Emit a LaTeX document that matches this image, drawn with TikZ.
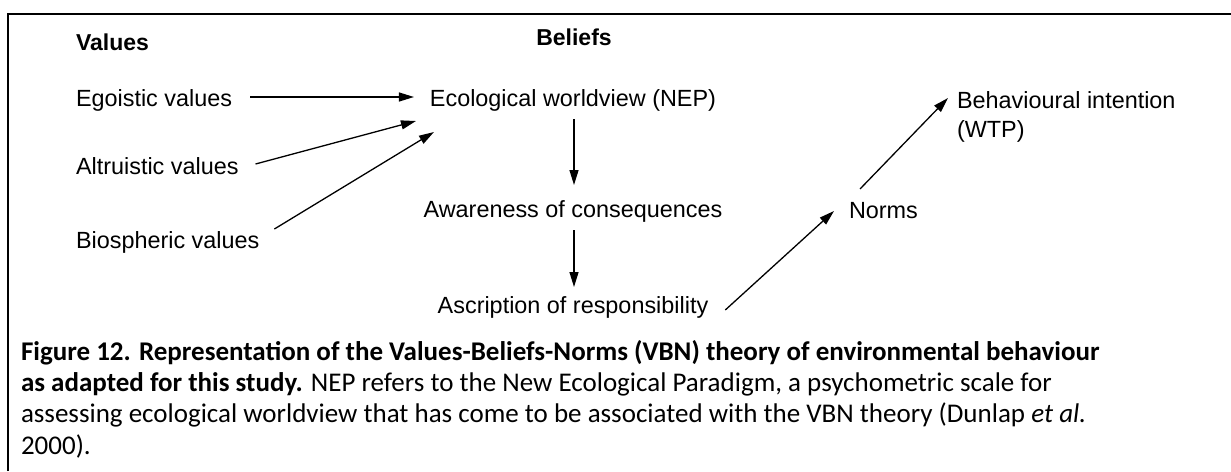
\documentclass[tikz,border=0pt]{standalone}
\usepackage{fontspec}
\setmainfont{Carlito}
\newfontfamily\arialf{Liberation Sans}
\usetikzlibrary{arrows.meta,calc}
\tikzset{
  lbl/.style={inner sep=0pt, outer sep=0pt, font=\arialf\fontsize{11.7}{14.5}\selectfont},
  hdr/.style={lbl, font=\arialf\bfseries\fontsize{11.5}{14.5}\selectfont},
  arr/.style={line width=0.65pt, -{Triangle[length=7.5pt,width=4.5pt]}},
  frame/.style={line width=1pt},
  captext/.style={inner sep=0pt, outer sep=0pt, align=left, font=\fontsize{13.5}{15.65}\selectfont}
}
\begin{document}
\begin{tikzpicture}[x=0.5pt,y=-0.5pt]
\useasboundingbox (0,0) rectangle (1231,471);
\draw[frame] (8,471) -- (8,14) -- (1231,14);

\node[hdr, anchor=base west] (values) at (76,50) {Values};
\node[hdr, anchor=base] (beliefs) at (574,46) {Beliefs};

\node[lbl, anchor=base west] (ego) at (76,106) {Egoistic values};
\node[lbl, anchor=base west] (alt) at (76,174) {Altruistic values};
\node[lbl, anchor=base west] (bio) at (76,248) {Biospheric values};

\node[lbl, anchor=base] (eco) at (573,106) {Ecological worldview (NEP)};
\node[lbl, anchor=base] (aware) at (573,217) {Awareness of consequences};
\node[lbl, anchor=base] (ascr) at (573,313) {Ascription of responsibility};

\node[lbl, anchor=base west] (norms) at (849,218) {Norms};
\node[lbl, anchor=base west, align=left] (behav) at (957,137) {Behavioural intention\\(WTP)};
\coordinate (behavtop) at ($(behav.base west)+(0,-29)$);

\draw[arr] ($(ego.base east)+(18,-9)$) -- ($(eco.base west)+(-16,-9)$);
\draw[arr] ($(alt.base east)+(17,-10)$) -- ($(eco.base west)+(-14,15)$);
\draw[arr] ($(bio.base east)+(15,-19)$) -- ($(eco.base west)+(4,26)$);
\draw[arr] ($(eco.base)+(1,13)$) -- ($(aware.base)+(1,-32)$);
\draw[arr] ($(aware.base)+(1,13)$) -- ($(ascr.base)+(1,-26)$);
\draw[arr] ($(ascr.base east)+(17,-3)$) -- ($(norms.base west)+(-15,-7)$);
\draw[arr] ($(norms.base west)+(11,-29)$) -- ($(behavtop)+(-9,-10)$);

\node[captext, anchor=base west] (caption) at (21,454) {\textbf{Figure 12. Representation of the Values-Beliefs-Norms (VBN) theory of environmental behaviour}\\
\textbf{as adapted for this study.} NEP refers to the New Ecological Paradigm, a psychometric scale for\\
assessing ecological worldview that has come to be associated with the VBN theory (Dunlap \textit{et al.}\\
2000).};
\end{tikzpicture}
\end{document}
